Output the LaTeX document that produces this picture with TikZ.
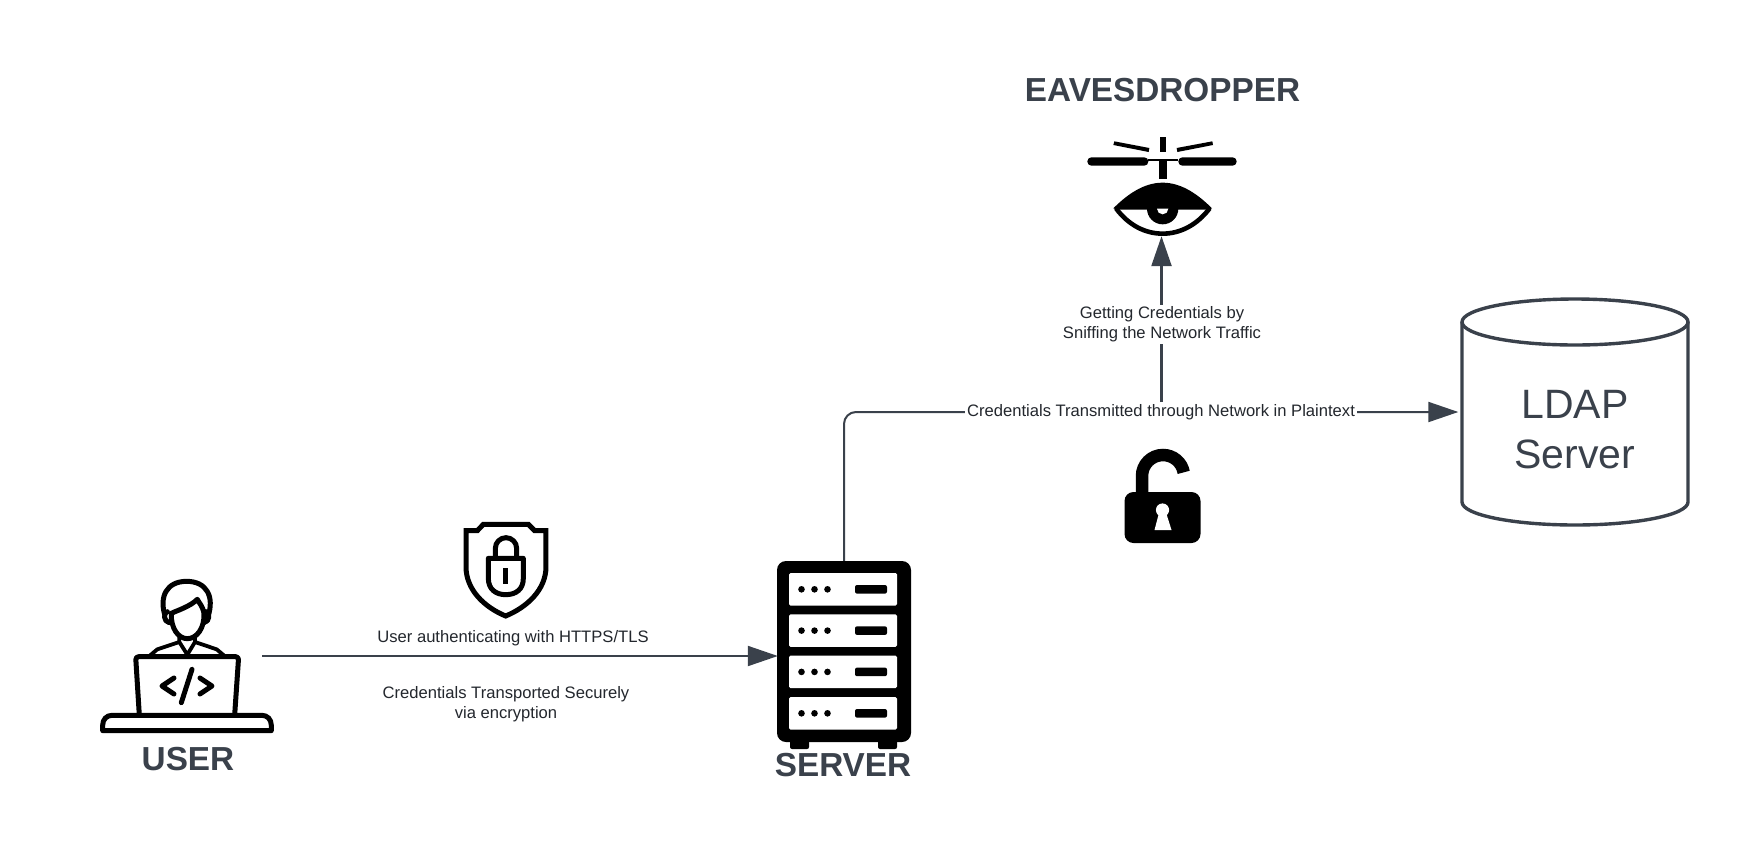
\documentclass[tikz,border=0pt]{standalone}
\usepackage{fontspec}
\setmainfont{Liberation Sans}
\usetikzlibrary{arrows.meta}
\definecolor{slate}{HTML}{3A414B}
\definecolor{labelink}{HTML}{23272D}
\tikzset{
  conn/.style={draw=slate,line width=2pt,-{Triangle[length=30pt,width=20pt,fill=slate]}},
  title/.style={font=\bfseries\fontsize{33.3}{38}\selectfont,text=slate,inner sep=0pt},
  lab/.style={font=\fontsize{16.6}{20}\selectfont,text=labelink,align=center,inner sep=2pt,fill=white},
  hold/.style={inner sep=0pt,minimum width=#1},
  ink/.style={draw=black,line width=5pt,line join=round,line cap=round},
  zoomed/.style={x=0.3333pt,y=-0.3333pt}
}
\begin{document}
\begin{tikzpicture}[x=1pt,y=-1pt]
\useasboundingbox[fill=white] (0,0) rectangle (1763,863);

% named holders
\node[hold=134pt,minimum height=187pt] (srv) at (844,654.5) {};
\node[hold=98pt,minimum height=53pt] (eye) at (1161.5,209.5) {};
\coordinate (userout) at (262,656);

% LDAP cylinder
\draw[draw=slate,line width=3.4pt,fill=white]
  (1462,322) -- (1462,502) arc[start angle=180,end angle=0,x radius=113,y radius=23] -- (1688,322);
\draw[draw=slate,line width=3.4pt] (1575,322) ellipse[x radius=113,y radius=23];
\node[hold=226pt,minimum height=227pt] (ldap) at (1575,412) {};
\node[align=center,text=slate,font=\fontsize{41}{50}\selectfont,inner sep=0pt] (ldaptext) at (1575,429.5) {LDAP\\Server};

% server icon
\fill[black,rounded corners=2pt] (790,735) rectangle (809,749);
\fill[black,rounded corners=2pt] (878,735) rectangle (897,749);
\fill[black,rounded corners=9pt] (777,561) rectangle (911,742);
\foreach \yy in {573,614.3,655.6,697}{
  \fill[white,rounded corners=1.5pt] (789,\yy) rectangle (897,\yy+32.6);
  \foreach \xx in {801.5,814.5,827.5}{\fill[black] (\xx,\yy+16.3) circle[radius=3.3];}
  \fill[black,rounded corners=2pt] (855,\yy+12) rectangle (887,\yy+20.6);
}

% connectors
\draw[conn,rounded corners=12pt,shorten >=3.5pt] (srv.north) |- (ldap.west);
\draw[conn,shorten >=-1pt] (userout) -- (userout -| srv.west);
\node[lab] (plain) at (1161,412) {Credentials Transmitted through Network in Plaintext};
\draw[conn,line width=2.4pt] (plain.north -| eye.south) -- (eye.south);
\node[lab] (sniff) at (1162,324.5) {Getting Credentials by\\Sniffing the Network Traffic};
\node[lab,fill=none] (tls) at (513,638) {User authenticating with HTTPS/TLS};
\node[lab,fill=none] (enc) at (506,704) {Credentials Transported Securely\\via encryption};

% titles
\node[title] (tuser) at (188,759.5) {USER};
\node[title] (tserver) at (843,765.5) {SERVER};
\node[title] (teaves) at (1162.5,90) {EAVESDROPPER};

% user icon, drawn in the coordinates of the crop
\begin{scope}[shift={(80,560)},zoomed]
  \draw[ink] (256,170) .. controls (236,110) and (260,64) .. (320,64)
     .. controls (380,64) and (404,110) .. (384,170);
  \draw[ink,fill=white] (262,155) .. controls (250,158) and (250,185) .. (268,188);
  \draw[ink,fill=white] (378,155) .. controls (390,158) and (390,185) .. (372,188);
  \draw[ink] (274,160) .. controls (290,152) and (330,140) .. (352,118)
     .. controls (358,130) and (368,138) .. (372,160)
     .. controls (374,205) and (350,236) .. (322,236)
     .. controls (295,236) and (272,205) .. (274,160);
  \draw[ink,line width=3.8pt] (298,226) -- (298,246) -- (322,284) -- (345,246) -- (345,226);
  \draw[ink,line width=3.8pt] (298,246) -- (232,268) -- (208,288);
  \draw[ink,line width=3.8pt] (345,246) -- (410,268) -- (434,288);
  \draw[ink,fill=white,rounded corners=3pt] (178,466) -- (167,290) -- (476,290) -- (464,466);
  \draw[ink] (68,512) -- (68,496) .. controls (68,478) and (80,466) .. (96,466) -- (546,466)
     .. controls (562,466) and (574,478) .. (574,496) -- (574,512) -- cycle;
  \draw[ink] (282,354) -- (246,378) -- (282,402);
  \draw[ink] (360,354) -- (396,378) -- (360,402);
  \draw[ink] (336,328) -- (304,428);
\end{scope}

% shield with closed lock
\begin{scope}[shift={(440,510)},zoomed]
  \draw[ink,line width=5pt,line cap=butt,miter limit=4,line join=miter]
    (130,43) -- (265,43) -- (284,62) -- (318,62) -- (318,170)
    .. controls (318,240) and (260,292) .. (197,318)
    .. controls (134,292) and (78,240) .. (78,170) -- (78,62) -- (112,62) -- cycle;
  \draw[ink,line cap=butt] (166,145) -- (166,115) arc[start angle=180,end angle=360,radius=32] -- (230,145);
  \draw[ink] (145,145) -- (250,145) -- (250,205)
    .. controls (250,238) and (228,254) .. (197,254)
    .. controls (168,254) and (145,238) .. (145,205) -- cycle;
  \fill[black] (189,174) rectangle (205,222);
\end{scope}

% open padlock
\fill[black,rounded corners=9pt] (1124.5,492) rectangle (1200.5,543);
\draw[black,line width=12.5pt] (1142,498) -- (1142,476) arc[start angle=180,end angle=350,radius=21];
\fill[white] (1162.5,510) circle[radius=6.6];
\fill[white] (1159.5,511) -- (1165.5,511) -- (1171.5,530) -- (1154.5,530) -- cycle;

% eye with rotor
\begin{scope}[shift={(1060,120)},zoomed]
  \fill[black,rounded corners=4pt] (82,112) rectangle (265,137);
  \fill[black,rounded corners=4pt] (355,112) rectangle (530,137);
  \draw[black,line width=1.5pt] (265,120) -- (355,120);
  \fill[black] (298,118) rectangle (321,176);
  \fill[black] (301,52) rectangle (317,96);
  \fill[black] (163,64) -- (268,84) -- (266,96) -- (160,75) -- cycle;
  \fill[black] (457,64) -- (350,84) -- (352,96) -- (459,75) -- cycle;
  \fill[black] (160,265) .. controls (200,225) and (250,188) .. (308,188)
     .. controls (366,188) and (416,225) .. (456,265) -- (445,269) -- (172,269) -- cycle;
  \draw[black,line width=4.6pt,line join=round] (168,265) .. controls (205,315) and (255,341) .. (308,341)
     .. controls (361,341) and (411,315) .. (449,265);
  \fill[black] (261,266) arc[start angle=180,end angle=0,radius=47] -- cycle;
  \fill[white] (291,266) arc[start angle=180,end angle=0,radius=17] -- cycle;
\end{scope}
\end{tikzpicture}
\end{document}
